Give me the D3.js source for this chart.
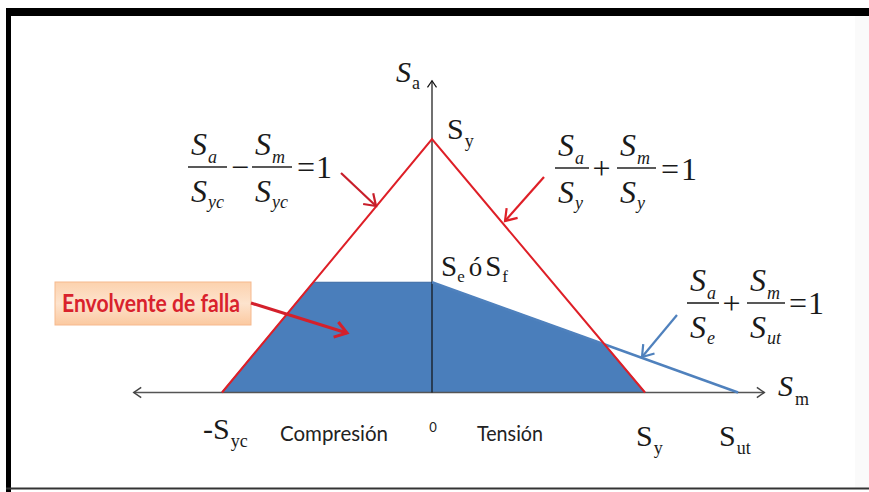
<!DOCTYPE html>
<html><head><meta charset="utf-8">
<script src="https://cdn.jsdelivr.net/npm/d3@7"></script>
<style>html,body{margin:0;padding:0;background:#fff;}svg{display:block;}</style>
</head><body>
<script>
// ---- data (in units of Sy) ----
const strengthNames = ["Syc", "Sy", "Se", "Sut"];
const strengthValues = [0.986, 1.0, 0.435, 1.437];
const smExtent = [-1.40, 1.56];
const saExtent = [0, 1.23];
const regionLabels = ["Compresión", "Tensión"];
const envelopeLabel = "Envolvente de falla";

const val = n => strengthValues[strengthNames.indexOf(n)];
const Syc = val("Syc"), Sy = val("Sy"), Se = val("Se"), Sut = val("Sut");

const W = 869, H = 492;
const svg = d3.select("body").append("svg").attr("width", W).attr("height", H);

// scales
const x = d3.scaleLinear().domain([0, Sy]).range([432, 645]);
const y = d3.scaleLinear().domain([0, Sy]).range([392.5, 139]);

// frame
svg.append("rect").attr("x", 0).attr("y", 0).attr("width", W).attr("height", H).attr("fill", "#fff");
svg.append("rect").attr("x", 855).attr("y", 16).attr("width", 14).attr("height", 472).attr("fill", "#fafafa");
svg.append("rect").attr("x", 6).attr("y", 8).attr("width", W - 6).attr("height", 8).attr("fill", "#000");
svg.append("rect").attr("x", 6).attr("y", 8).attr("width", 5).attr("height", H - 8).attr("fill", "#000");
svg.append("rect").attr("x", 6).attr("y", 487.5).attr("width", W - 6).attr("height", 2).attr("fill", "#333");

const red = "#de1f27", blue = "#4f81bd", fillBlue = "#4a7ebb";
const line = d3.line().x(d => x(d[0])).y(d => y(d[1]));

// envelope polygon
const smLeft = Syc * (Se / Sy - 1);
const smInt = (Sy - Se) / (1 - Se / Sut);
const saInt = Sy - smInt;
const envelope = [[-Syc, 0], [smLeft, Se], [0, Se], [smInt, saInt], [Sy, 0]];
svg.append("path").attr("d", line(envelope) + "Z")
  .attr("fill", fillBlue).attr("stroke", "#3b6aa3").attr("stroke-width", 1.2);

// axes
function chevron(tx, ty, ang, len, color, sw) {
  const a1 = ang + Math.PI - 0.6, a2 = ang + Math.PI + 0.6;
  svg.append("path")
    .attr("d", `M${tx + len * Math.cos(a1)},${ty + len * Math.sin(a1)}L${tx},${ty}L${tx + len * Math.cos(a2)},${ty + len * Math.sin(a2)}`)
    .attr("fill", "none").attr("stroke", color).attr("stroke-width", sw);
}
svg.append("line").attr("x1", x(smExtent[0])).attr("x2", x(smExtent[1]))
  .attr("y1", y(0)).attr("y2", y(0)).attr("stroke", "#555").attr("stroke-width", 1.5);
chevron(x(smExtent[0]), y(0), Math.PI, 9, "#444", 1.5);
chevron(x(smExtent[1]), y(0), 0, 9, "#444", 1.5);
svg.append("line").attr("x1", x(0)).attr("x2", x(0))
  .attr("y1", y(0)).attr("y2", y(saExtent[1])).attr("stroke", "#111").attr("stroke-width", 1.2);
chevron(x(0), y(saExtent[1]), -Math.PI / 2, 8, "#111", 1.2);

// yield lines and Goodman line
svg.append("path").attr("d", line([[Sut, 0], [0, Se]])).attr("fill", "none").attr("stroke", blue).attr("stroke-width", 2.5);
svg.append("path").attr("d", line([[-Syc, 0], [0, Sy], [Sy, 0]])).attr("fill", "none").attr("stroke", red).attr("stroke-width", 2);

// pointer arrows
function arrow(x1, y1, x2, y2, color, sw, hl) {
  svg.append("line").attr("x1", x1).attr("y1", y1).attr("x2", x2).attr("y2", y2)
    .attr("stroke", color).attr("stroke-width", sw);
  chevron(x2, y2, Math.atan2(y2 - y1, x2 - x1), hl, color, sw);
}
arrow(341, 173, 376, 206, "#c81e2a", 2.2, 13);
arrow(544, 177, 505, 221, red, 2.2, 13);
arrow(677, 315, 642, 357, blue, 2.2, 13);

// envelope label box
const defs = svg.append("defs");
const gr = defs.append("linearGradient").attr("id", "peach").attr("x1", 0).attr("y1", 0).attr("x2", 0).attr("y2", 1);
gr.append("stop").attr("offset", "0%").attr("stop-color", "#fcd2ae");
gr.append("stop").attr("offset", "50%").attr("stop-color", "#fde3cd");
gr.append("stop").attr("offset", "100%").attr("stop-color", "#fbc9a0");
svg.append("rect").attr("x", 55).attr("y", 282).attr("width", 196).attr("height", 43)
  .attr("fill", "url(#peach)").attr("stroke", "#f6b98e").attr("stroke-width", 1);
svg.append("text").attr("x", 62).attr("y", 312).text(envelopeLabel)
  .attr("font-family", "'Liberation Sans Narrow', Lato, sans-serif").attr("font-weight", "bold")
  .attr("font-size", 25).attr("fill", "#d9222c")
  .attr("textLength", 178).attr("lengthAdjust", "spacingAndGlyphs");
arrow(251, 303, 347, 333, "#d4202b", 3, 14);

// text helpers
const serif = "'Liberation Serif', 'Times New Roman', serif";
function sLabel(px, py, sub, o) {
  o = Object.assign({ size: 30, subSize: 18, italic: false, subItalic: false, subDx: 1, subDy: 7, pre: "" }, o || {});
  const t = svg.append("text").attr("x", px).attr("y", py).attr("font-family", serif).attr("fill", "#1a1a1a");
  if (o.pre) t.append("tspan").attr("font-size", o.size).text(o.pre);
  t.append("tspan").attr("font-size", o.size).attr("font-style", o.italic ? "italic" : "normal").text("S");
  t.append("tspan").attr("font-size", o.subSize).attr("font-style", o.subItalic ? "italic" : "normal")
    .attr("dx", o.subDx).attr("dy", o.subDy).text(sub);
  return t;
}

// axis labels
sLabel(396, 82, "a", { italic: true, subSize: 18, subDy: 7 });
sLabel(447, 139, "y", { subDy: 8 });
// Se ó Sf
const seT = svg.append("text").attr("x", 441).attr("y", 276).attr("font-family", serif).attr("fill", "#1a1a1a");
seT.append("tspan").attr("font-size", 29).text("S");
seT.append("tspan").attr("font-size", 17).attr("dy", 6).text("e");
seT.append("tspan").attr("font-size", 27).attr("dx", 4).attr("dy", -6).text("ó");
seT.append("tspan").attr("font-size", 29).attr("dx", 3).text("S");
seT.append("tspan").attr("font-size", 17).attr("dx", 1).attr("dy", 6).text("f");

sLabel(x(-Syc) - 19, 439, "yc", { pre: "-", subDy: 8 });
sLabel(x(Sy) - 9, 446, "y", { subDy: 8 });
sLabel(x(Sut) - 19, 446, "ut", { subDy: 8 });
sLabel(778, 396, "m", { italic: true, subDy: 9, subDx: 2 });

svg.append("text").attr("x", x(0) + 1).attr("y", 432).attr("text-anchor", "middle")
  .attr("font-family", "Lato, sans-serif").attr("font-size", 13).attr("fill", "#222").text("0");
svg.append("text").attr("x", 280).attr("y", 441).attr("font-family", "Lato, 'Open Sans', sans-serif")
  .attr("font-size", 21).attr("fill", "#222").attr("textLength", 108).attr("lengthAdjust", "spacingAndGlyphs").text(regionLabels[0]);
svg.append("text").attr("x", 477).attr("y", 441).attr("font-family", "Lato, 'Open Sans', sans-serif")
  .attr("font-size", 21).attr("fill", "#222").attr("textLength", 66).attr("lengthAdjust", "spacingAndGlyphs").text(regionLabels[1]);

// equations
const eqFont = 32, eqSub = 18;
function frac(x0, x1, by, numSub, denSub) {
  svg.append("line").attr("x1", x0).attr("x2", x1).attr("y1", by).attr("y2", by)
    .attr("stroke", "#222").attr("stroke-width", 1.6);
  const n = svg.append("text").attr("x", x0 + 3).attr("y", by - 12).attr("font-family", serif).attr("fill", "#1a1a1a").attr("font-style", "italic");
  n.append("tspan").attr("font-size", eqFont).text("S");
  n.append("tspan").attr("font-size", eqSub).attr("dx", 1).attr("dy", 8).text(numSub);
  const d = svg.append("text").attr("x", x0 + 3).attr("y", by + 35).attr("font-family", serif).attr("fill", "#1a1a1a").attr("font-style", "italic");
  d.append("tspan").attr("font-size", eqFont).text("S");
  d.append("tspan").attr("font-size", eqSub).attr("dx", 1).attr("dy", 6).text(denSub);
}
function op(px, py, s, anchor) {
  svg.append("text").attr("x", px).attr("y", py).attr("text-anchor", anchor || "middle")
    .attr("font-family", serif).attr("font-size", eqFont).attr("fill", "#1a1a1a").text(s);
}
// eq 1: Sa/Syc - Sm/Syc = 1
frac(188, 227, 167, "a", "yc");
op(240, 178, "−");
frac(252, 292, 167, "m", "yc");
op(306, 178, "=");
op(324, 178, "1");
// eq 2: Sa/Sy + Sm/Sy = 1
frac(555, 589, 168, "a", "y");
op(601.5, 179, "+");
frac(617, 656, 168, "m", "y");
op(670, 180, "=");
op(689, 180, "1");
// eq 3: Sa/Se + Sm/Sut = 1
frac(687, 719, 303, "a", "e");
op(731.5, 314, "+");
frac(747, 785, 303, "m", "ut");
op(798, 314, "=");
op(816, 314, "1");
</script>
</body></html>
